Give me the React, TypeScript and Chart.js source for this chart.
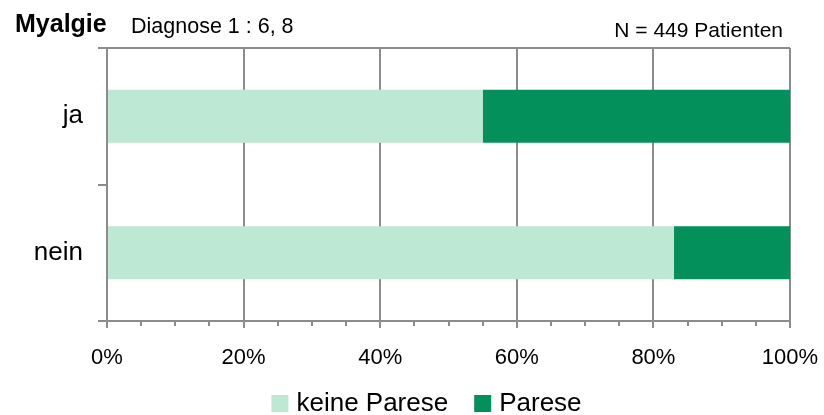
import React, { useEffect, useRef } from "react";
import { Chart, registerables } from "chart.js";

Chart.register(...registerables);

const categories = ["ja", "nein"];
const seriesNames = ["keine Parese", "Parese"];
const keineParese = [55, 83];
const parese = [45, 17];
const xTickValues = [0, 20, 40, 60, 80, 100];
const minorTickValues = [5, 10, 15, 25, 30, 35, 45, 50, 55, 65, 70, 75, 85, 90, 95];
const titleMain = "Myalgie";
const titleSub = "Diagnose 1 : 6, 8";
const nText = "N = 449 Patienten";

const FONT = "'Liberation Sans', Arial, sans-serif";
const GRID = "#8c8c8c";
const LIGHT = "#bde9d4";
const DARK = "#03905a";

const overlayPlugin = {
  id: "overlay",
  afterDraw(chart: any) {
    const ctx = chart.ctx as CanvasRenderingContext2D;
    const area = chart.chartArea;
    const xs = chart.scales.x;
    ctx.save();
    // minor ticks
    ctx.strokeStyle = GRID;
    ctx.lineWidth = 2;
    minorTickValues.forEach((v) => {
      const px = Math.round(xs.getPixelForValue(v));
      ctx.beginPath();
      ctx.moveTo(px, area.bottom);
      ctx.lineTo(px, area.bottom + 5);
      ctx.stroke();
    });
    // titles
    ctx.fillStyle = "#000";
    ctx.textBaseline = "alphabetic";
    ctx.textAlign = "left";
    ctx.font = `bold 25px ${FONT}`;
    ctx.fillText(titleMain, 15, 32);
    ctx.font = `21.5px ${FONT}`;
    ctx.fillText(titleSub, 131, 33);
    ctx.font = `21px ${FONT}`;
    ctx.textAlign = "right";
    ctx.fillText(nText, 783, 37);
    // legend
    ctx.font = `26px ${FONT}`;
    ctx.textAlign = "left";
    const sq = 17;
    const gapText = 8;
    const gapItem = 26;
    const items = chart.data.datasets.map((d: any) => ({
      label: d.label,
      color: d.backgroundColor,
      w: ctx.measureText(d.label).width,
    }));
    const total = items.reduce((s: number, it: any, i: number) => s + sq + gapText + it.w + (i > 0 ? gapItem : 0), 0);
    let x = 426.5 - total / 2;
    items.forEach((it: any) => {
      ctx.fillStyle = it.color;
      ctx.fillRect(x, 395, sq, sq);
      ctx.fillStyle = "#000";
      ctx.fillText(it.label, x + sq + gapText, 411);
      x += sq + gapText + it.w + gapItem;
    });
    ctx.restore();
  },
};

export default function App() {
  const ref = useRef<HTMLCanvasElement>(null);
  useEffect(() => {
    if (!ref.current) return;
    const chart = new Chart(ref.current, {
      type: "bar",
      data: {
        labels: categories,
        datasets: [
          { label: seriesNames[0], data: keineParese, backgroundColor: LIGHT, borderWidth: 0 },
          { label: seriesNames[1], data: parese, backgroundColor: DARK, borderWidth: 0 },
        ],
      },
      options: {
        indexAxis: "y",
        animation: false,
        responsive: false,
        maintainAspectRatio: false,
        layout: { padding: { left: 0, top: 48, right: 34, bottom: 0 } },
        datasets: { bar: { categoryPercentage: 1, barPercentage: 0.39 } },
        plugins: { legend: { display: false }, tooltip: { enabled: false }, title: { display: false } },
        scales: {
          x: {
            stacked: true,
            min: 0,
            max: 100,
            afterBuildTicks: (s: any) => {
              s.ticks = xTickValues.map((v) => ({ value: v }));
            },
            afterFit: (s: any) => {
              s.height = 94;
              s.paddingLeft = 0;
              s.paddingRight = 0;
            },
            ticks: {
              callback: (v: any) => v + "%",
              color: "#000",
              font: { family: FONT, size: 22 },
              padding: 17,
              maxRotation: 0,
              autoSkip: false,
            },
            grid: { color: GRID, lineWidth: 2, tickColor: GRID, tickLength: 7, drawTicks: true },
            border: { display: true, color: GRID, width: 2 },
          },
          y: {
            stacked: true,
            afterFit: (s: any) => {
              s.width = 107;
            },
            ticks: {
              color: "#000",
              font: { family: FONT, size: 26 },
              padding: 15,
            },
            grid: {
              offset: true,
              color: (c: any) => (c.index === 0 ? GRID : "rgba(0,0,0,0)"),
              lineWidth: 2,
              tickColor: GRID,
              tickLength: 9,
              drawTicks: true,
            },
            border: { display: true, color: GRID, width: 2 },
          },
        },
      },
      plugins: [overlayPlugin],
    });
    return () => chart.destroy();
  }, []);
  return (
    <div style={{ position: "fixed", left: 0, top: 0, width: 824, height: 415, background: "#fff" }}>
      <canvas ref={ref} width={824} height={415} />
    </div>
  );
}
